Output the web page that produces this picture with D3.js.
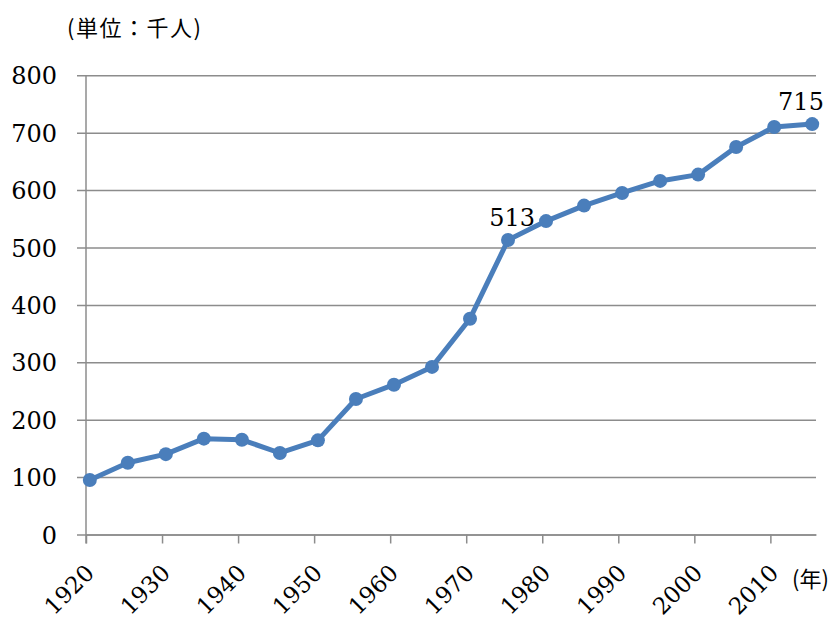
<!DOCTYPE html>
<html>
<head>
<meta charset="utf-8">
<script src="https://cdn.jsdelivr.net/npm/d3@7"></script>
<style>
  body { margin: 0; background: #fff; }
</style>
</head>
<body>
<div id="chart"></div>
<script>
const years = [1920, 1925, 1930, 1935, 1940, 1945, 1950, 1955, 1960, 1965,
               1970, 1975, 1980, 1985, 1990, 1995, 2000, 2005, 2010, 2015];
const population = [95, 125, 140, 167, 165, 142, 164, 236, 261, 292,
                    376, 513, 546, 573, 595, 616, 627, 675, 710, 715];
const labelledYears = [1975, 2015];
const xTicks = [1920, 1930, 1940, 1950, 1960, 1970, 1980, 1990, 2000, 2010];
const yTicks = [0, 100, 200, 300, 400, 500, 600, 700, 800];

const width = 839, height = 618;
const plotL = 86, plotR = 816, plotT = 75.3, plotB = 534.5;
const serif = "'DejaVu Serif', 'Liberation Serif', serif";
const cjk = "'Noto Sans CJK JP', sans-serif";
const blue = "#4A7EBB", grid = "#8c8c8c";

const svg = d3.select("#chart")
  .append("svg")
  .attr("width", width)
  .attr("height", height);

const x = d3.scaleLinear().domain([1920, 2016]).range([plotL, plotR]);
const y = d3.scaleLinear().domain([0, 800]).range([plotB, plotT]);

// gridlines + y labels
const yAxis = svg.append("g")
  .attr("transform", `translate(${plotR},0)`)
  .call(d3.axisLeft(y).tickValues(yTicks).tickSize(plotR - 77).tickPadding(20));
yAxis.select(".domain").remove();
yAxis.selectAll("line").attr("stroke", grid).attr("stroke-width", 1.5);
yAxis.selectAll("text")
  .attr("fill", "#000")
  .attr("font-family", serif)
  .attr("font-size", 24)
  .attr("dy", "0.36em");

// vertical axis line
svg.append("line")
  .attr("x1", plotL).attr("x2", plotL)
  .attr("y1", plotT).attr("y2", plotB + 9)
  .attr("stroke", grid).attr("stroke-width", 1.5);

// x axis
const xAxis = svg.append("g")
  .attr("transform", `translate(0,${plotB})`)
  .call(d3.axisBottom(x).tickValues(xTicks).tickSize(9).tickSizeOuter(0).tickFormat(d3.format("d")));
xAxis.select(".domain").attr("stroke", grid).attr("stroke-width", 1.5);
xAxis.selectAll("line").attr("stroke", grid).attr("stroke-width", 1.5);
xAxis.selectAll("text")
  .attr("fill", "#000")
  .attr("font-family", serif)
  .attr("font-size", 23)
  .attr("text-anchor", "end")
  .attr("y", 0).attr("dy", 0)
  .attr("transform", "translate(9,40) rotate(-45)");

// unit labels
svg.append("text")
  .attr("x", 67).attr("y", 36)
  .attr("fill", "#000")
  .attr("font-family", cjk).attr("font-size", 22)
  .attr("letter-spacing", 1.5)
  .text("(単位：千人)");
svg.append("text")
  .attr("x", 792).attr("y", 587)
  .attr("fill", "#000")
  .attr("font-family", cjk).attr("font-size", 22)
  .text("(年)");

// line + markers
const pts = years.map((yr, i) => ({ yr, v: population[i] }));
const px = d => x(d.yr + 0.5);

svg.append("path")
  .datum(pts)
  .attr("fill", "none")
  .attr("stroke", blue)
  .attr("stroke-width", 5)
  .attr("stroke-linejoin", "round")
  .attr("d", d3.line().x(px).y(d => y(d.v)));

svg.append("g")
  .selectAll("circle")
  .data(pts)
  .join("circle")
  .attr("cx", px)
  .attr("cy", d => y(d.v))
  .attr("r", 7)
  .attr("fill", blue);

// value labels
svg.append("g")
  .selectAll("text")
  .data(pts.filter(d => labelledYears.includes(d.yr)))
  .join("text")
  .attr("x", d => Math.min(px(d) + 4, width - 14 - 24))
  .attr("y", d => y(d.v) - 14)
  .attr("text-anchor", "middle")
  .attr("fill", "#000")
  .attr("font-family", serif)
  .attr("font-size", 24)
  .text(d => d.v);
</script>
</body>
</html>
